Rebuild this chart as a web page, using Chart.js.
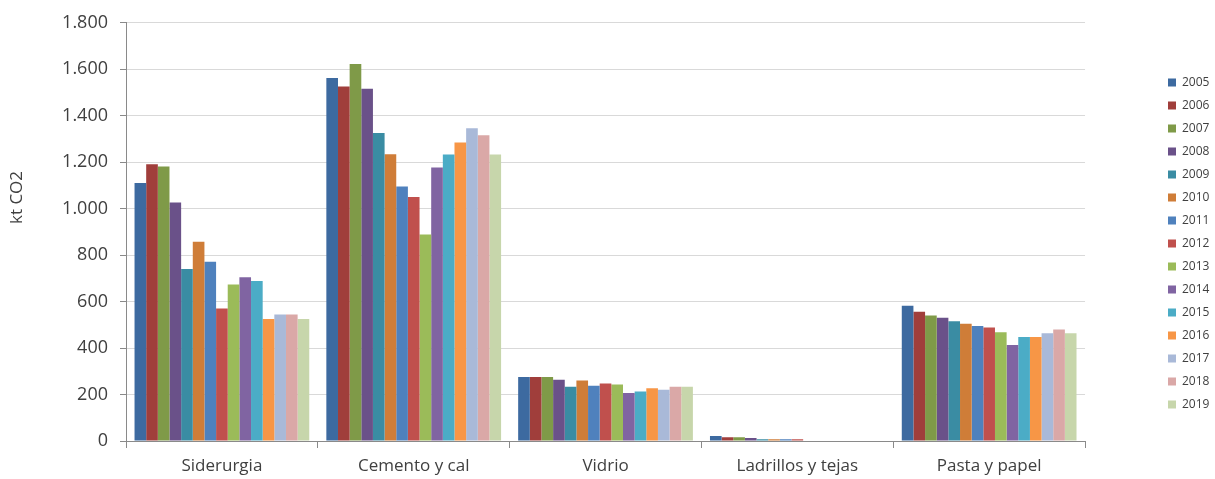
<!DOCTYPE html>
<html>
<head>
<meta charset="utf-8">
<script src="https://cdn.jsdelivr.net/npm/chart.js@4.4.1/dist/chart.umd.min.js"></script>
<style>
  html, body { margin: 0; padding: 0; background: #ffffff; }
  #wrap { width: 1215px; height: 479px; position: relative; }
</style>
</head>
<body>
<div id="wrap"><canvas id="c" width="1215" height="479"></canvas></div>
<script>
const categories = ["Siderurgia", "Cemento y cal", "Vidrio", "Ladrillos y tejas", "Pasta y papel"];
const years = ["2005","2006","2007","2008","2009","2010","2011","2012","2013","2014","2015","2016","2017","2018","2019"];
const yTitle = "kt CO2";
const yTicks = [0, 200, 400, 600, 800, 1000, 1200, 1400, 1600, 1800];

// values per year: [Siderurgia, Cemento y cal, Vidrio, Ladrillos y tejas, Pasta y papel]
const v2005 = [1110, 1562, 276, 21, 582];
const v2006 = [1191, 1526, 276, 16, 556];
const v2007 = [1181, 1623, 275, 16, 540];
const v2008 = [1027, 1516, 264, 13, 530];
const v2009 = [740, 1326, 233, 7, 515];
const v2010 = [858, 1234, 260, 7, 505];
const v2011 = [771, 1095, 238, 7, 495];
const v2012 = [570, 1050, 248, 7, 489];
const v2013 = [674, 889, 243, 0, 468];
const v2014 = [705, 1177, 207, 0, 413];
const v2015 = [689, 1233, 213, 0, 448];
const v2016 = [525, 1285, 227, 0, 448];
const v2017 = [545, 1346, 221, 0, 464];
const v2018 = [545, 1316, 233, 0, 480];
const v2019 = [525, 1233, 233, 0, 464];

const seriesValues = [v2005, v2006, v2007, v2008, v2009, v2010, v2011, v2012, v2013, v2014, v2015, v2016, v2017, v2018, v2019];
const colors = ["#3D6AA0","#A03E3B","#7F9A48","#6A5189","#3A8CA3","#CF7D38","#4F81BD","#C0504D","#9BBB59","#8064A2","#4BACC6","#F79646","#A9B9D8","#DAA8A7","#C7D6AB"];

const FONT = "'Open Sans', 'DejaVu Sans', sans-serif";
const TEXT = "#404040";

const datasets = years.map((y, i) => ({
  label: y,
  data: seriesValues[i],
  backgroundColor: colors[i],
  borderWidth: 0,
  barPercentage: 1.0,
  categoryPercentage: 0.911
}));

const yTitlePlugin = {
  id: 'yTitle',
  afterLayout(chart) {
    const lg = chart.legend;
    if (lg) {
      const dx = 1157 - lg.left;
      lg.left += dx; lg.right += dx;
      lg.top -= 5; lg.bottom -= 5;
    }
  },
  afterDraw(chart) {
    const ctx = chart.ctx;
    ctx.save();
    ctx.translate(17.5, 197.5);
    ctx.rotate(-Math.PI / 2);
    ctx.textAlign = 'center';
    ctx.textBaseline = 'middle';
    ctx.font = "17px " + FONT;
    ctx.fillStyle = TEXT;
    ctx.fillText(yTitle, 0, 0);
    ctx.restore();
  }
};

new Chart(document.getElementById('c'), {
  type: 'bar',
  data: { labels: categories, datasets: datasets },
  plugins: [yTitlePlugin],
  options: {
    responsive: false,
    animation: false,
    devicePixelRatio: 1,
    layout: { padding: { top: 18, right: 7.5, bottom: 0, left: 0 } },
    plugins: {
      tooltip: { enabled: false },
      legend: {
        position: 'right',
        labels: {
          boxWidth: 8,
          boxHeight: 8,
          padding: 11,
          color: TEXT,
          font: { family: FONT, size: 12 }
        }
      }
    },
    scales: {
      x: {
        offset: true,
        grid: {
          display: true,
          drawOnChartArea: false,
          drawTicks: true,
          tickLength: 7,
          color: "#8a8a8a",
          offset: true
        },
        border: { display: true, color: "#8a8a8a", width: 1 },
        ticks: {
          color: TEXT,
          font: { family: FONT, size: 17 },
          padding: 8,
          maxRotation: 0,
          autoSkip: false
        },
        afterFit(s) { s.height = 38; }
      },
      y: {
        min: 0,
        max: 1800,
        afterBuildTicks(s) { s.ticks = yTicks.map(v => ({ value: v })); },
        grid: {
          color: "#d9d9d9",
          drawTicks: true,
          tickLength: 6,
          tickColor: "#8a8a8a",
          lineWidth: 1
        },
        border: { display: true, color: "#8a8a8a", width: 1 },
        ticks: {
          color: TEXT,
          font: { family: FONT, size: 18 },
          padding: 12,
          callback: (v) => Number(v).toLocaleString('de-DE')
        },
        afterFit(s) { s.width = 126; }
      },
      gap: {
        type: 'linear',
        position: 'right',
        display: true,
        grid: { display: false, drawTicks: false },
        border: { display: false },
        ticks: { display: false },
        afterFit(s) { s.width = 60; }
      }
    }
  }
});
</script>
</body>
</html>
